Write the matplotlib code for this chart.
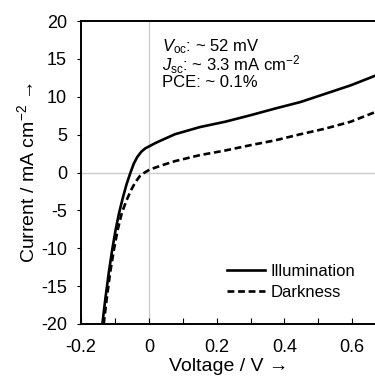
import matplotlib
matplotlib.use("Agg")
import matplotlib.pyplot as plt
from matplotlib.ticker import MultipleLocator

plt.rcParams['font.family'] = ['Liberation Sans', 'DejaVu Sans']
plt.rcParams['mathtext.fontset'] = 'custom'
plt.rcParams['mathtext.rm'] = 'Liberation Sans'
plt.rcParams['mathtext.it'] = 'Liberation Sans:italic'
plt.rcParams['axes.unicode_minus'] = False

# Illumination (solid)
v_light = [-0.137, -0.128, -0.118, -0.108, -0.098, -0.088, -0.077, -0.066, -0.054, -0.044,
           -0.034, -0.022, -0.010, 0.003, 0.020, 0.042, 0.077, 0.151, 0.225, 0.299, 0.373,
           0.447, 0.521, 0.595, 0.669]
j_light = [-20, -16.6, -13.2, -10.2, -7.6, -5.4, -3.4, -1.6, 0, 1.2,
           2.05, 2.75, 3.2, 3.5, 3.9, 4.35, 5.05, 6.0, 6.7, 7.55, 8.45,
           9.3, 10.4, 11.5, 12.8]

# Darkness (dashed)
v_dark = [-0.133, -0.124, -0.114, -0.103, -0.092, -0.080, -0.066, -0.052, -0.040, -0.026,
          -0.012, 0.003, 0.042, 0.077, 0.151, 0.225, 0.299, 0.373, 0.447, 0.521,
          0.595, 0.669]
j_dark = [-20, -16.6, -13.2, -10.2, -7.6, -5.4, -3.7, -2.3, -1.3, -0.45,
          0, 0.4, 1.0, 1.5, 2.3, 2.9, 3.6, 4.25, 5.05, 5.8,
          6.7, 8.0]

labels = ["Illumination", "Darkness"]
annot = [r"$V_{\rm oc}$: ~ 52 mV", r"$J_{\rm sc}$: ~ 3.3 mA cm$^{-2}$", "PCE: ~ 0.1%"]

W, H = 375, 380
fig = plt.figure(figsize=(W / 100, H / 100), dpi=100)
ax = fig.add_axes([81 / W, (H - 324) / H, (376 - 81) / W, (324 - 21) / H])

ax.axhline(0, color='#cccccc', lw=1.0, zorder=1)
ax.axvline(0, color='#cccccc', lw=1.0, zorder=1)

ax.plot(v_light, j_light, color='black', lw=1.9, label=labels[0], zorder=3)
ax.plot(v_dark, j_dark, color='black', lw=1.9, ls=(0, (2.6, 1.4)), label=labels[1], zorder=3)

ax.set_xlim(-0.2, 0.67)
ax.set_ylim(-20, 20)
ax.xaxis.set_major_locator(MultipleLocator(0.2))
ax.xaxis.set_minor_locator(MultipleLocator(0.1))
ax.yaxis.set_major_locator(MultipleLocator(5))
ax.xaxis.set_major_formatter(plt.FuncFormatter(lambda v, p: "0" if abs(v) < 1e-9 else f"{v:.1f}"))

for s in ['left', 'bottom', 'top']:
    ax.spines[s].set_linewidth(1.4)
ax.spines['right'].set_visible(False)

ax.tick_params(axis='x', which='both', direction='in', length=4, width=0.8,
               labelsize=13, pad=11, top=False)
ax.tick_params(axis='y', which='major', direction='out', length=3, width=0.8,
               labelsize=13, pad=7)

ax.set_xlabel("Voltage / V →", fontsize=14, labelpad=1)
ax.set_ylabel("Current / mA cm$^{-2}$ →", fontsize=14, labelpad=2)

ax.text(0.04, 17.9, "\n".join(annot), fontsize=12, va='top', ha='left', linespacing=0.9)

leg = ax.legend(loc='upper left', bbox_to_anchor=(227 / W, 1 - 264 / H),
                bbox_transform=fig.transFigure, frameon=False, fontsize=12,
                handlelength=2.3, handletextpad=0.3, labelspacing=0.35,
                borderpad=0, borderaxespad=0)

fig.savefig("out.png", dpi=100)
